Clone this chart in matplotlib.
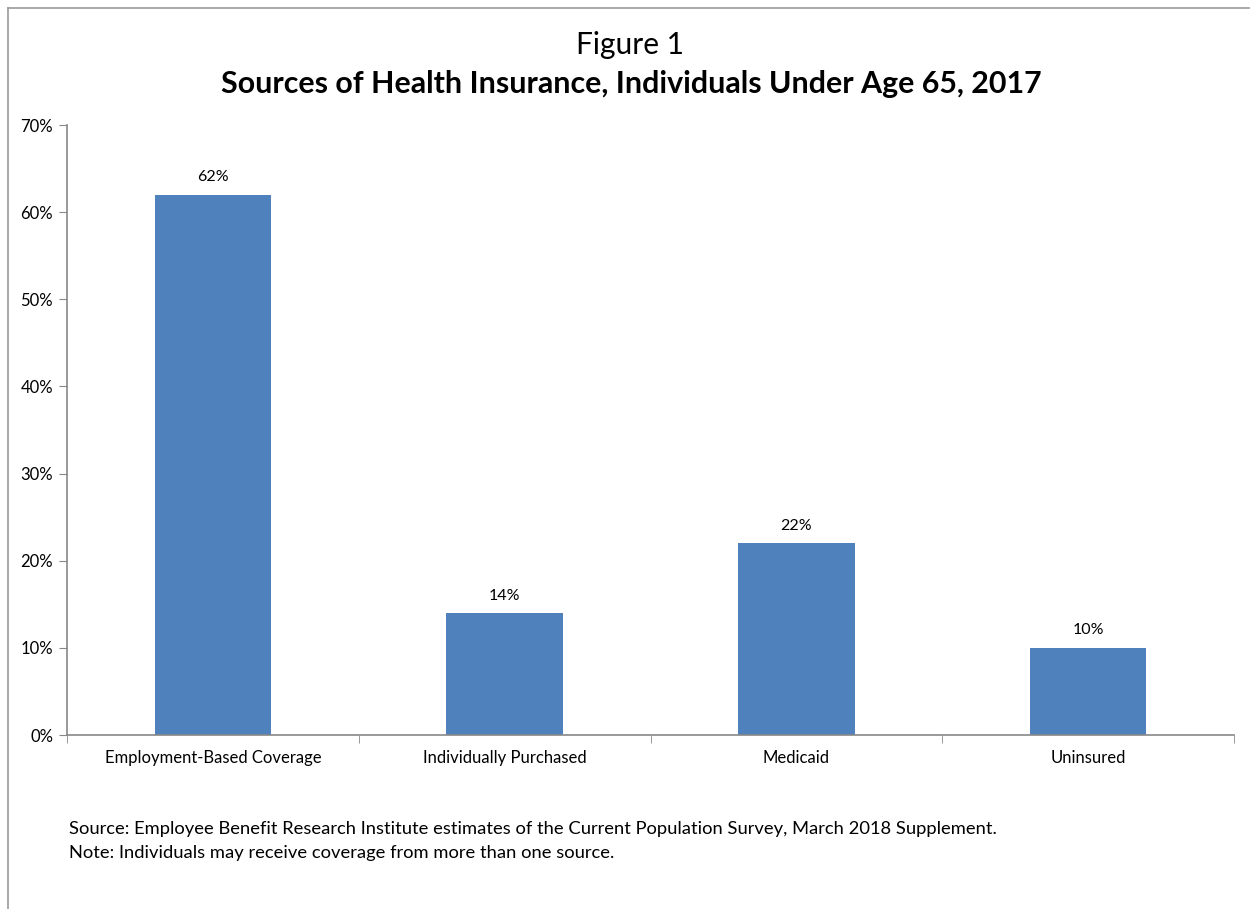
import matplotlib
matplotlib.use("Agg")
import matplotlib.pyplot as plt
from matplotlib.ticker import FuncFormatter, MultipleLocator

categories = ["Employment-Based Coverage", "Individually Purchased", "Medicaid", "Uninsured"]
values = [62, 14, 22, 10]
value_labels = ["62%", "14%", "22%", "10%"]
ytick_max = 70

plt.rcParams['font.family'] = ['Lato', 'DejaVu Sans']

fig = plt.figure(figsize=(12.5, 9.09), dpi=100)
W, H = 1250, 909
ax = fig.add_axes([67 / W, 1 - 735 / H, (1234 - 67) / W, (735 - 125) / H])

x = list(range(len(categories)))
ax.bar(x, values, width=0.4, color="#4F81BD", zorder=2)
for xi, v, lab in zip(x, values, value_labels):
    ax.text(xi, v + 1.2, lab, ha="center", va="bottom", fontsize=11.5)

ax.set_xlim(-0.5, len(categories) - 0.5)
ax.set_ylim(0, ytick_max)
ax.yaxis.set_major_locator(MultipleLocator(10))
ax.yaxis.set_major_formatter(FuncFormatter(lambda v, p: f"{int(v)}%"))
ax.set_xticks(x)
ax.set_xticklabels(categories, fontsize=12)
ax.set_xticks([i - 0.5 for i in range(len(categories) + 1)], minor=True)
ax.tick_params(axis="x", which="major", length=0, pad=11)
ax.tick_params(axis="x", which="minor", length=6, color="#888888", direction="out")
ax.tick_params(axis="y", length=6, color="#888888", labelsize=12, pad=4)
for s in ["top", "right"]:
    ax.spines[s].set_visible(False)
for s in ["left", "bottom"]:
    ax.spines[s].set_color("#888888")
    ax.spines[s].set_linewidth(1.2)

fig.text(630 / W, 1 - 45 / H, "Figure 1", ha="center", va="center", fontsize=21.5)
fig.text(631 / W, 1 - 84 / H, "Sources of Health Insurance, Individuals Under Age 65, 2017",
         ha="center", va="center", fontsize=21.9, fontweight="bold")
fig.text(69 / W, 1 - 829 / H,
         "Source: Employee Benefit Research Institute estimates of the Current Population Survey, March 2018 Supplement.",
         ha="left", va="center", fontsize=13.2)
fig.text(69 / W, 1 - 853 / H,
         "Note: Individuals may receive coverage from more than one source.",
         ha="left", va="center", fontsize=13.2)

# outer frame (top and left edges)
fig.add_artist(plt.Line2D([8 / W, 8 / W], [0, 1 - 8 / H], transform=fig.transFigure, color="#999999", lw=1.2))
fig.add_artist(plt.Line2D([8 / W, 1249 / W], [1 - 8 / H, 1 - 8 / H], transform=fig.transFigure, color="#999999", lw=1.2))

fig.savefig("out.png", dpi=100)
